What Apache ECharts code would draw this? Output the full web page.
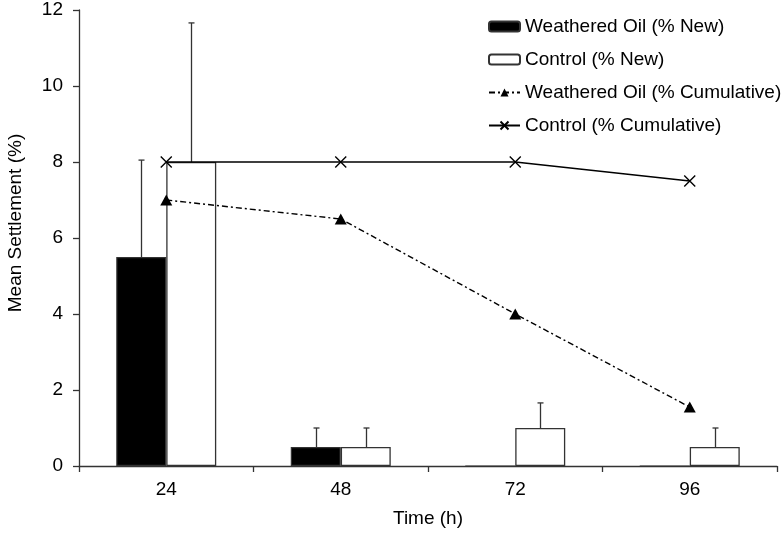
<!DOCTYPE html>
<html>
<head>
<meta charset="utf-8">
<script src="https://cdn.jsdelivr.net/npm/echarts@6/dist/echarts.min.js"></script>
<style>
html,body{margin:0;padding:0;background:#fff;}
#chart{width:783px;height:533px;}
</style>
</head>
<body>
<div id="chart"></div>
<script>
var categories = ['24', '48', '72', '96'];
var yTicks = [0, 2, 4, 6, 8, 10, 12];
var oilNew = [5.5, 0.5, 0, 0];
var oilNewErrTop = [8.05, 1.0, null, null];
var controlNew = [8.0, 0.5, 1.0, 0.5];
var controlNewErrTop = [11.66, 1.0, 1.66, 1.0];
var oilCumulative = [7.0, 6.5, 4.0, 1.55];
var controlCumulative = [8.0, 8.0, 8.0, 7.5];
var seriesNames = ['Weathered Oil (% New)', 'Control (% New)', 'Weathered Oil (% Cumulative)', 'Control (% Cumulative)'];

var BAR_FRAC = 0.2865;
var AX = '#333';
var FONT = 'Liberation Sans, Arial, sans-serif';

function errData(vals, tops) {
  var out = [];
  for (var i = 0; i < vals.length; i++) {
    if (tops[i] != null && tops[i] > vals[i]) out.push([i, vals[i], tops[i]]);
  }
  return out;
}
function errRender(sign) {
  return function (params, api) {
    var xi = api.value(0);
    var base = api.coord([xi, api.value(1)]);
    var top = api.coord([xi, api.value(2)]);
    var bw = api.size([1, 0])[0];
    var x = Math.round(base[0] + sign * bw * BAR_FRAC / 2) + 0.5;
    var st = { stroke: AX, lineWidth: 1.3 };
    return {
      type: 'group',
      children: [
        { type: 'line', shape: { x1: x, y1: base[1], x2: x, y2: top[1] }, style: st },
        { type: 'line', shape: { x1: x - 3, y1: top[1], x2: x + 3, y2: top[1] }, style: st }
      ]
    };
  };
}

var chart = echarts.init(document.getElementById('chart'));
chart.setOption({
  animation: false,
  backgroundColor: '#fff',
  textStyle: { fontFamily: FONT },
  grid: { left: 79, right: 6, top: 10, bottom: 67, containLabel: false, outerBoundsMode: 'none' },
  legend: {
    data: seriesNames,
    orient: 'vertical',
    left: 483,
    top: 12,
    itemWidth: 31,
    itemHeight: 10,
    itemGap: 14,
    textStyle: { fontSize: 19, color: '#000', fontFamily: FONT, lineHeight: 19 }
  },
  xAxis: {
    type: 'category',
    data: categories,
    name: 'Time (h)',
    nameLocation: 'middle',
    nameGap: 43,
    nameTextStyle: { fontSize: 19, color: '#000', fontFamily: FONT },
    axisLine: { lineStyle: { color: AX, width: 1.3 } },
    axisTick: { show: true, length: 6, lineStyle: { color: AX, width: 1.3 } },
    axisLabel: { fontSize: 19, color: '#000', margin: 14, fontFamily: FONT }
  },
  yAxis: {
    type: 'value',
    min: yTicks[0],
    max: yTicks[yTicks.length - 1],
    interval: 2,
    name: 'Mean Settlement (%)',
    nameLocation: 'middle',
    nameGap: 54,
    nameTextStyle: { fontSize: 19, color: '#000', fontFamily: FONT, padding: [0, 0, 0, 30] },
    axisLine: { show: true, lineStyle: { color: AX, width: 1.3 } },
    axisTick: { show: true, length: 6, lineStyle: { color: AX, width: 1.3 } },
    axisLabel: { fontSize: 19, color: '#000', margin: 16, fontFamily: FONT },
    splitLine: { show: false }
  },
  series: [
    {
      name: seriesNames[0], type: 'bar', data: oilNew,
      barWidth: (BAR_FRAC * 100) + '%', barGap: '0%',
      itemStyle: { color: '#000', borderColor: AX, borderWidth: 1.2 }
    },
    {
      name: seriesNames[1], type: 'bar', data: controlNew,
      barWidth: (BAR_FRAC * 100) + '%', barGap: '0%',
      itemStyle: { color: '#fff', borderColor: AX, borderWidth: 1.3 }
    },
    {
      name: 'errOil', type: 'custom', data: errData(oilNew, oilNewErrTop),
      renderItem: errRender(-1), encode: { x: 0, y: 2 }, z: 3, silent: true
    },
    {
      name: 'errControl', type: 'custom', data: errData(controlNew, controlNewErrTop),
      renderItem: errRender(1), encode: { x: 0, y: 2 }, z: 3, silent: true
    },
    {
      name: seriesNames[2], type: 'line', data: oilCumulative, z: 5,
      symbol: 'triangle', symbolSize: [12, 11],
      itemStyle: { color: '#000' },
      lineStyle: { color: '#000', width: 1.4, type: [6, 3, 2, 3] }
    },
    {
      name: seriesNames[3], type: 'line', data: controlCumulative, z: 5,
      symbol: 'path://M0,0L10,10M10,0L0,10', symbolSize: 11,
      itemStyle: { color: 'none', borderColor: '#000', borderWidth: 1.4 },
      lineStyle: { color: '#000', width: 1.6 }
    }
  ]
});
</script>
</body>
</html>
